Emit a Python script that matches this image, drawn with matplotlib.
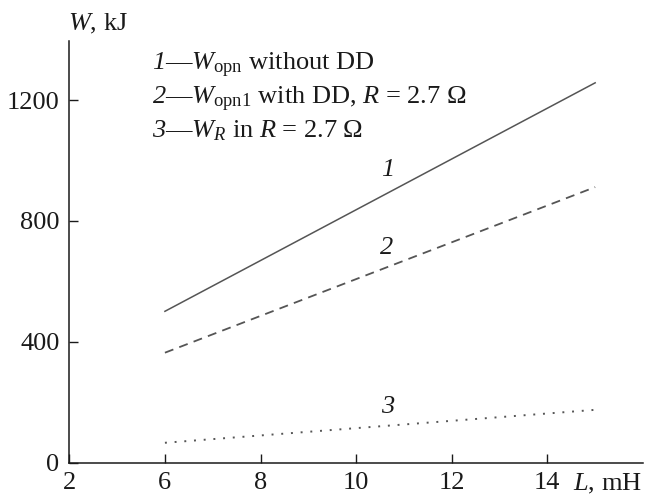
import matplotlib.pyplot as plt
import numpy as np

plt.rcParams['font.family'] = 'Liberation Serif'
plt.rcParams['mathtext.fontset'] = 'custom'
plt.rcParams['mathtext.rm'] = 'Liberation Serif'
plt.rcParams['mathtext.it'] = 'Liberation Serif:italic'
# italic digits for the legend numbers (mathtext 'it' sends digits to rm)
plt.rcParams['mathtext.bf'] = 'Liberation Serif:italic'

# data (L in mH, W in kJ)
L = [6, 15]
w_opn = [501, 1257]     # 1 - without DD
w_opn1 = [364, 912]     # 2 - with DD, R = 2.7 Ohm
w_r = [66, 175]         # 3 - W_R in R = 2.7 Ohm

# axis is broken at the origin: first tick labelled "2"
xticks = [4, 6, 8, 10, 12, 14]
xticklabels = ['2', '6', '8', '10', '12', '14']
yticks = [0, 400, 800, 1200]

line_col = '#555555'
txt_col = '#1a1a1a'
fs = 19

fig = plt.figure(figsize=(6.46, 4.96), dpi=100)
ax = fig.add_axes([0.1073, 0.0671, 0.888, 0.85])

ax.plot(L, w_opn, '-', color=line_col, lw=1.1)
ax.plot(L, w_opn1, color=line_col, lw=1.3, linestyle=(0, (5, 3.5)))
ax.plot(L, w_r, color=line_col, lw=1.4, linestyle=(0, (1, 4)))

ax.set_xlim(4, 16)
ax.set_ylim(0, 1395)
ax.set_xticks(xticks)
ax.set_xticklabels(xticklabels)
ax.set_yticks(yticks)

for s in ['top', 'right']:
    ax.spines[s].set_visible(False)
for s in ['left', 'bottom']:
    ax.spines[s].set_linewidth(1.1)
    ax.spines[s].set_color(txt_col)
ax.tick_params(direction='in', length=6.5, width=1.0, color=txt_col,
               labelsize=fs, labelcolor=txt_col)
ax.tick_params(axis='x', pad=7)
ax.tick_params(axis='y', pad=7)

# curve numbers
ax.text(10.65, 967, '1', fontsize=fs, style='italic', color=txt_col, ha='center', va='center')
ax.text(10.63, 709, '2', fontsize=fs, style='italic', color=txt_col, ha='center', va='center')
ax.text(10.65, 185, '3', fontsize=fs, style='italic', color=txt_col, ha='center', va='center')

# legend written as text
leg = [r'$\mathbf{1}$—$W_{\rm opn}$ without DD',
       r'$\mathbf{2}$—$W_{\rm opn1}$ with DD, $R$ = 2.7 Ω',
       r'$\mathbf{3}$—$W_R$ in $R$ = 2.7 Ω']
leg_y = [1315, 1201, 1099]
for t, y in zip(leg, leg_y):
    ax.text(5.72, y, t, fontsize=fs, color=txt_col, ha='left', va='center')

# axis titles
ax.text(3.98, 1453, r'$W$, kJ', fontsize=fs, color=txt_col, ha='left', va='center', clip_on=False)
ax.text(14.53, -69, r'$L$, mH', fontsize=fs, color=txt_col, ha='left', va='center', clip_on=False)

fig.savefig('out.png', dpi=100)
